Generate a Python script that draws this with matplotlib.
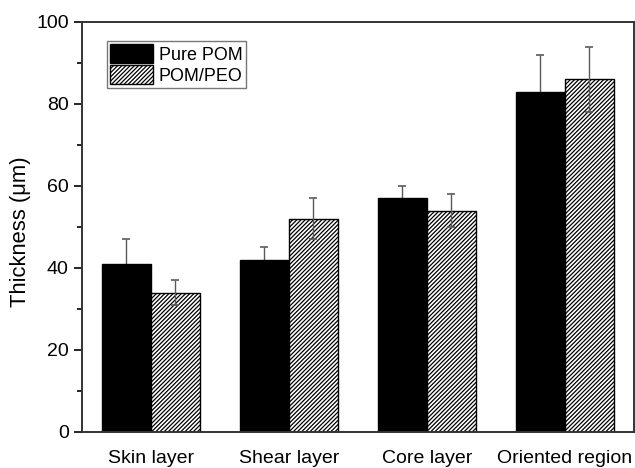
import matplotlib.pyplot as plt
import numpy as np

plt.rcParams['font.family'] = ['Liberation Sans', 'DejaVu Sans']
plt.rcParams['hatch.linewidth'] = 0.9

# data
layers = ['Skin layer', 'Shear layer', 'Core layer', 'Oriented region']
pure_pom = [41, 42, 57, 83]
pure_pom_err = [6, 3, 3, 9]
pom_peo = [34, 52, 54, 86]
pom_peo_err = [3, 5, 4, 8]

x = np.arange(len(layers))
w = 0.355

fig = plt.figure(figsize=(6.35, 4.68), dpi=100)
ax = fig.add_axes([0.129, 0.077, 0.869, 0.876])

ecol = '#5a5a5a'
ax.errorbar(x - w / 2, pure_pom, yerr=pure_pom_err, fmt='none', ecolor=ecol,
            elinewidth=1, capsize=3.2, capthick=1.2, zorder=1)
ax.bar(x - w / 2, pure_pom, w, color='black', edgecolor='black', lw=1,
       label='Pure POM', zorder=2)
ax.bar(x + w / 2, pom_peo, w, color='white', edgecolor='black', lw=1,
       hatch='////////', label='POM/PEO', zorder=2)
ax.errorbar(x + w / 2, pom_peo, yerr=pom_peo_err, fmt='none', ecolor=ecol,
            elinewidth=1, capsize=3.2, capthick=1.2, zorder=3)

ax.set_xlim(-0.5, 3.5)
ax.set_ylim(0, 100)
ax.set_xticks(x)
ax.set_xticklabels(layers, fontsize=14)
ax.tick_params(axis='x', length=0, pad=13)
ax.set_yticks(np.arange(0, 101, 20))
ax.set_yticks(np.arange(10, 100, 20), minor=True)
ax.tick_params(axis='y', which='major', length=6, width=1.2, labelsize=14,
               direction='out')
ax.tick_params(axis='y', which='minor', length=3.5, width=1.2, direction='out')
ax.set_ylabel('Thickness (μm)', fontsize=15.8, labelpad=1)
ax.yaxis.set_label_coords(-0.093, 0.488)

for s in ax.spines.values():
    s.set_linewidth(1.4)
    s.set_color('#333333')

leg = ax.legend(loc='upper left', bbox_to_anchor=(0.045, 0.954), fontsize=12.9,
                frameon=True, fancybox=False, edgecolor='#555555',
                handlelength=2.4, handleheight=1.2, handletextpad=0.3,
                labelspacing=0.1, borderpad=0.2, borderaxespad=0)
leg.get_frame().set_linewidth(1.0)

fig.savefig('out.png', dpi=100)
